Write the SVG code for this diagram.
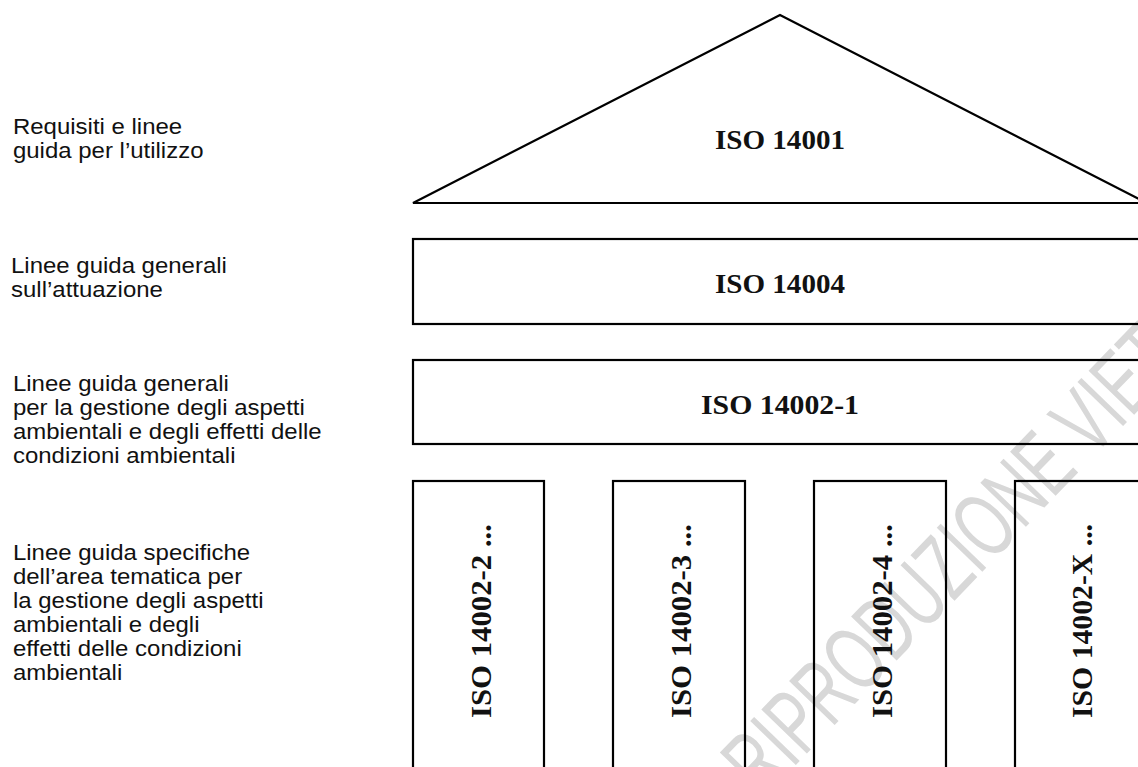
<svg xmlns="http://www.w3.org/2000/svg" width="1138" height="767" viewBox="0 0 1138 767">
  <style>
    .shape { fill: none; stroke: #000; stroke-width: 2.2; stroke-linejoin: miter; }
    .iso { font-family: "Liberation Serif", "DejaVu Serif", serif; font-weight: bold; font-size: 27px; fill: #111; }
    .isov { font-family: "Liberation Serif", "DejaVu Serif", serif; font-weight: bold; font-size: 30px; fill: #111; }
    .lbl { font-family: "Liberation Sans", Arial, sans-serif; font-size: 22px; fill: #111; }
    .wm { font-family: "Liberation Sans", Arial, sans-serif; font-size: 92px; fill: #d8d8d8; }
  </style>
  <rect width="1138" height="767" fill="#fff"/>

  <g id="watermark">
    <text class="wm" transform="translate(762,800) rotate(-46)" textLength="710" lengthAdjust="spacingAndGlyphs">RIPRODUZIONE VIETATA</text>
  </g>

  <g id="labels" transform="scale(1.09,1)">
    <text class="lbl" x="11.9" y="134">Requisiti e linee</text>
    <text class="lbl" x="11.9" y="158">guida per l’utilizzo</text>
    <text class="lbl" x="10.1" y="273">Linee guida generali</text>
    <text class="lbl" x="10.1" y="297">sull’attuazione</text>
    <text class="lbl" x="11.9" y="391">Linee guida generali</text>
    <text class="lbl" x="11.9" y="415">per la gestione degli aspetti</text>
    <text class="lbl" x="11.9" y="439">ambientali e degli effetti delle</text>
    <text class="lbl" x="11.9" y="463">condizioni ambientali</text>
    <text class="lbl" x="11.9" y="560">Linee guida specifiche</text>
    <text class="lbl" x="11.9" y="584">dell’area tematica per</text>
    <text class="lbl" x="11.9" y="608">la gestione degli aspetti</text>
    <text class="lbl" x="11.9" y="632">ambientali e degli</text>
    <text class="lbl" x="11.9" y="656">effetti delle condizioni</text>
    <text class="lbl" x="11.9" y="680">ambientali</text>
  </g>

  <g id="iso14001">
    <polygon class="shape" points="780,15 413,203 1147,203"/>
    <text class="iso" x="780" y="149" text-anchor="middle" textLength="130" lengthAdjust="spacingAndGlyphs">ISO 14001</text>
  </g>

  <g id="iso14004">
    <rect class="shape" x="413" y="239" width="740" height="85"/>
    <text class="iso" x="780" y="293" text-anchor="middle" textLength="130" lengthAdjust="spacingAndGlyphs">ISO 14004</text>
  </g>

  <g id="iso14002-1">
    <rect class="shape" x="413" y="360" width="740" height="84"/>
    <text class="iso" x="780" y="414" text-anchor="middle" textLength="158" lengthAdjust="spacingAndGlyphs">ISO 14002-1</text>
  </g>

  <g id="iso14002-2">
    <rect class="shape" x="413" y="481" width="131" height="300"/>
    <text class="isov" transform="translate(491,718) rotate(-90)" textLength="194" lengthAdjust="spacingAndGlyphs">ISO 14002-2 ...</text>
  </g>

  <g id="iso14002-3">
    <rect class="shape" x="613" y="481" width="132" height="300"/>
    <text class="isov" transform="translate(691,718) rotate(-90)" textLength="194" lengthAdjust="spacingAndGlyphs">ISO 14002-3 ...</text>
  </g>

  <g id="iso14002-4">
    <rect class="shape" x="814" y="481" width="132" height="300"/>
    <text class="isov" transform="translate(892,718) rotate(-90)" textLength="194" lengthAdjust="spacingAndGlyphs">ISO 14002-4 ...</text>
  </g>

  <g id="iso14002-x">
    <rect class="shape" x="1015" y="481" width="140" height="300"/>
    <text class="isov" transform="translate(1092,718) rotate(-90)" textLength="194" lengthAdjust="spacingAndGlyphs">ISO 14002-X ...</text>
  </g>

  <g id="connectors"/>
</svg>
